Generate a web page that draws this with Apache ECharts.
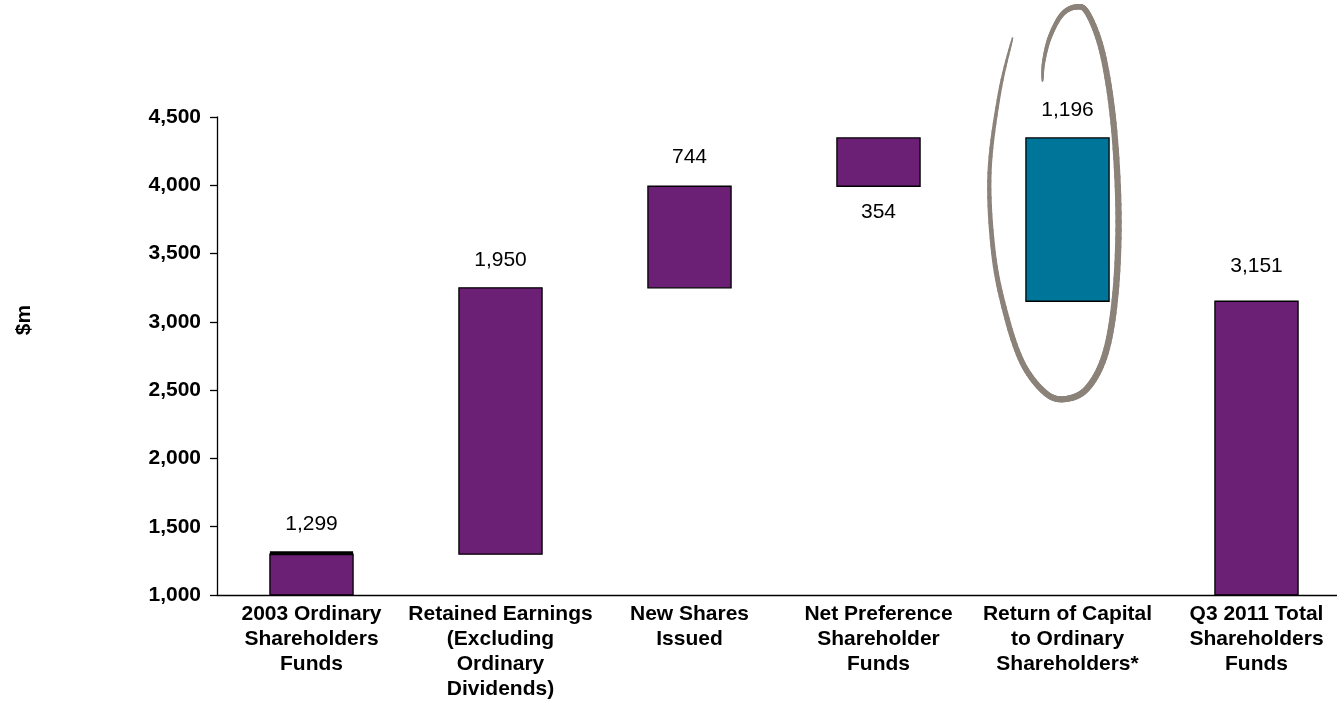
<!DOCTYPE html>
<html>
<head>
<meta charset="utf-8">
<script src="https://cdn.jsdelivr.net/npm/echarts@6/dist/echarts.min.js"></script>
<style>
html,body{margin:0;padding:0;background:#fff;overflow:hidden;width:1337px;height:705px;}
#c{width:1351px;height:705px;}
</style>
</head>
<body>
<div id="c"></div>
<script>
// ---- data ----
const categories = [
  '2003 Ordinary\nShareholders\nFunds',
  'Retained Earnings\n(Excluding\nOrdinary\nDividends)',
  'New Shares\nIssued',
  'Net Preference\nShareholder\nFunds',
  'Return of Capital\nto Ordinary\nShareholders*',
  'Q3 2011 Total\nShareholders\nFunds'
];
const changes = [1299, 1950, 744, 354, -1196, 3151];
const isTotal = [true, false, false, false, false, true];
const yTicks = { min: 1000, max: 4500, interval: 500 };

// ---- styling ----
const PURPLE = '#6B1F75';
const TEAL = '#00759A';
const barColors = [PURPLE, PURPLE, PURPLE, PURPLE, TEAL, PURPLE];
const labelBelow = [false, false, false, true, false, false];
const labelGap = [19.5, 17.5, 18.5, 15.5, 17.5, 24.5];

// waterfall ranges built from the data
const ranges = [];
let running = 0;
changes.forEach((c, i) => {
  if (isTotal[i]) {
    ranges.push([i, yTicks.min, c]);
    running = c;
  } else {
    const lo = running, hi = running + c;
    ranges.push([i, Math.min(lo, hi), Math.max(lo, hi)]);
    running = hi;
  }
});
const labels = changes.map(v => Math.abs(v).toLocaleString('en-US'));

// annotation ring around "Return of Capital" (shape offsets in px from anchor)
const ringAnchor = [4, 3870];
const ringOffsets = [
  [-55,-165],[-68,-110],[-78,-30],[-74,50],[-62,110],[-45,160],[-22,190],[-2,196],
  [20,185],[38,150],[48,90],[51,10],[46,-80],[35,-150],[20,-190],[8,-196],
  [-6,-188],[-18,-165],[-24,-140],[-25,-122]
];

// Catmull-Rom smoothing of the ring outline (annotation geometry only)
function smoothPath(pts, steps) {
  const out = [];
  for (let i = 0; i < pts.length - 1; i++) {
    const p0 = pts[Math.max(i - 1, 0)], p1 = pts[i], p2 = pts[i + 1], p3 = pts[Math.min(i + 2, pts.length - 1)];
    for (let s = 0; s < steps; s++) {
      const t = s / steps, t2 = t * t, t3 = t2 * t;
      const f = k => 0.5 * ((2 * p1[k]) + (-p0[k] + p2[k]) * t + (2 * p0[k] - 5 * p1[k] + 4 * p2[k] - p3[k]) * t2 + (-p0[k] + 3 * p1[k] - 3 * p2[k] + p3[k]) * t3);
      out.push([f(0), f(1)]);
    }
  }
  out.push(pts[pts.length - 1]);
  return out;
}

const chart = echarts.init(document.getElementById('c'), null, { renderer: 'canvas' });
const FONT = '"Liberation Sans", Arial, sans-serif';

chart.setOption({
  animation: false,
  backgroundColor: '#ffffff',
  grid: { left: 217, right: 0, top: 117, bottom: 110, containLabel: false },
  graphic: [{
    type: 'text', x: 24, y: 320, rotation: Math.PI / 2,
    style: { text: '$m', fill: '#000', font: 'bold 21px ' + FONT, align: 'center', verticalAlign: 'middle' }
  }],
  xAxis: {
    type: 'category',
    data: categories,
    axisLine: { show: true, lineStyle: { color: '#000', width: 1.3 } },
    axisTick: { show: false },
    axisLabel: {
      interval: 0, color: '#000', fontFamily: FONT, fontWeight: 'bold',
      fontSize: 21, lineHeight: 25, margin: 7
    },
    splitLine: { show: false }
  },
  yAxis: {
    type: 'value',
    min: yTicks.min, max: yTicks.max, interval: yTicks.interval,
    axisLine: { show: true, lineStyle: { color: '#000', width: 1.3 } },
    axisTick: { show: true, inside: false, length: 7, lineStyle: { color: '#000', width: 1.3 } },
    axisLabel: {
      color: '#000', fontFamily: FONT, fontWeight: 'bold', fontSize: 21, margin: 16,
      formatter: v => v.toLocaleString('en-US')
    },
    splitLine: { show: false }
  },
  series: [
    {
      type: 'custom',
      encode: { x: 0, y: [1, 2] },
      data: ranges,
      z: 3,
      renderItem: function (params, api) {
        const i = api.value(0);
        const lo = api.coord([i, api.value(1)]);
        const hi = api.coord([i, api.value(2)]);
        const w = api.size([1, 0])[0] * 0.44;
        const x = lo[0] - w / 2;
        const children = [{
          type: 'rect',
          shape: { x: x, y: hi[1], width: w, height: lo[1] - hi[1] },
          style: { fill: barColors[i], stroke: '#000', lineWidth: 1.3 }
        }];
        if (i === 0) {
          children.push({
            type: 'rect',
            shape: { x: x, y: hi[1] - 3, width: w, height: 4 },
            style: { fill: '#000' }
          });
        }
        const below = labelBelow[i];
        const ty = below ? lo[1] + labelGap[i] : hi[1] - labelGap[i];
        children.push({
          type: 'text',
          x: lo[0], y: ty,
          style: {
            text: labels[i], fill: '#000', font: '21px ' + FONT,
            align: 'center', verticalAlign: below ? 'top' : 'bottom'
          }
        });
        return { type: 'group', children: children };
      }
    },
    {
      type: 'custom',
      encode: { x: 0, y: 1 },
      data: [ringAnchor],
      z: 4,
      silent: true,
      renderItem: function (params, api) {
        const c = api.coord([api.value(0), api.value(1)]);
        const pts = smoothPath(ringOffsets.map(o => [c[0] + o[0], c[1] + o[1]]), 10);
        const n = pts.length - 1;
        const children = [];
        for (let k = 0; k < n; k++) {
          const t = (k + 0.5) / n;
          const w = 1.2 + 5.2 * Math.pow(Math.sin(Math.PI * t), 0.5);
          children.push({
            type: 'line',
            shape: { x1: pts[k][0], y1: pts[k][1], x2: pts[k + 1][0], y2: pts[k + 1][1] },
            style: { stroke: '#8B8279', lineWidth: w, lineCap: 'round' }
          });
        }
        return { type: 'group', children: children };
      }
    }
  ]
});
</script>
</body>
</html>
